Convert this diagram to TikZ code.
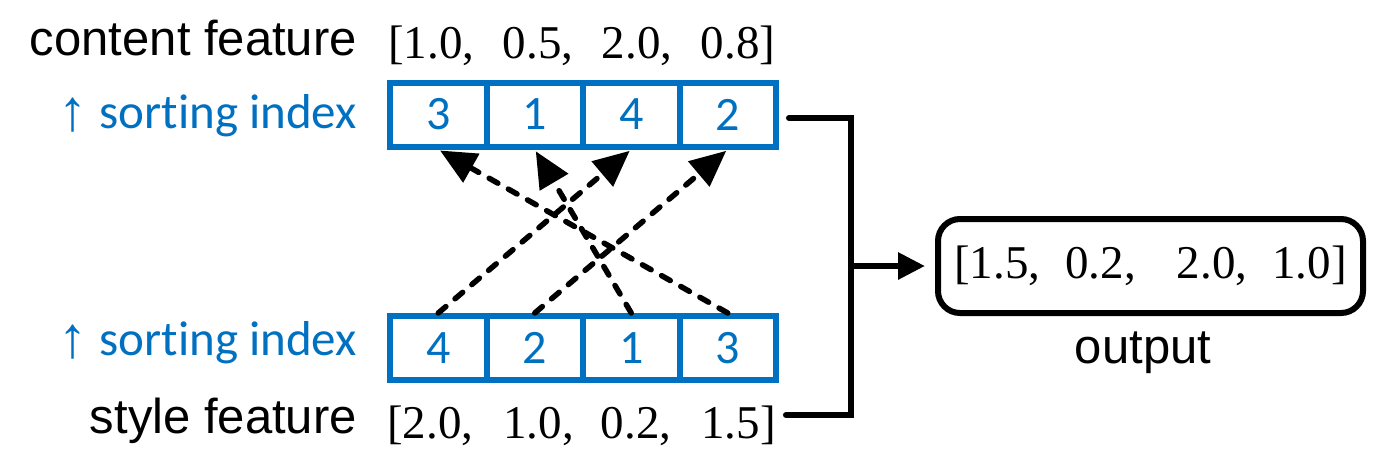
\documentclass[tikz,border=0pt]{standalone}
\usepackage{fontspec}
\setmainfont{Liberation Serif}
\newfontfamily\arialf{Liberation Sans}
\newfontfamily\calibf[Ligatures=NoCommon]{Carlito}
\usetikzlibrary{arrows.meta}
\definecolor{ppblue}{HTML}{0070C0}
\begin{document}
\begin{tikzpicture}[x=1pt,y=-1pt,
  cell/.style={draw=ppblue, line width=6pt, minimum width=96.5pt, minimum height=64pt, inner sep=0pt, text=ppblue, font=\calibf\fontsize{48}{48}\selectfont},
  lbl/.style={inner sep=0pt, font=\arialf\fontsize{49}{49}\selectfont},
  idx/.style={inner sep=0pt, text=ppblue, font=\calibf\fontsize{49}{49}\selectfont},
  uparr/.style={inner sep=0pt, text=ppblue, font=\arialf\fontsize{58}{58}\selectfont},
  vec/.style={inner sep=0pt, font=\fontsize{47}{47}\selectfont},
  dasharrow/.style={line width=5.5pt, line cap=round, dash pattern=on 10pt off 12pt, -{Triangle[length=36pt,width=32pt]}, shorten >=2pt},
  conn/.style={line width=6pt, line cap=round}
]
\useasboundingbox (0,0) rectangle (1384,475);
\fill[white] (0,0) rectangle (1384,475);

\foreach \i/\v in {1/3,2/1,3/4,4/2}
  \node[cell] (t\i) at ({438.25+(\i-1)*96.5}, 114.5) {\v};
\foreach \i/\v in {1/4,2/2,3/1,4/3}
  \node[cell] (b\i) at ({438.25+(\i-1)*96.5}, 348) {\v};

\node[lbl, anchor=base east] (cf) at (357,55) {content feature};
\node[idx, anchor=base east] (si1) at (357,128) {sorting index};
\node[uparr, anchor=base] (ar1) at (72.5,130) {↑};
\node[idx, anchor=base east] (si2) at (357,355) {sorting index};
\node[uparr, anchor=base] (ar2) at (72.5,357) {↑};
\node[lbl, anchor=base east] (sf) at (357,433) {style feature};

\node[vec, anchor=base west] (cv) at (388,58) {[1.0,\hspace{28.5pt}0.5,\hspace{28.5pt}2.0,\hspace{28.5pt}0.8]};
\node[vec, anchor=base west] (sv) at (387,438) {[2.0,\hspace{30pt}1.0,\hspace{27pt}0.2,\hspace{30pt}1.5]};

\node[draw, line width=6pt, rounded corners=22pt, minimum width=425pt, minimum height=94pt, inner sep=0pt, font=\fontsize{47}{47}\selectfont] (out) at (1150.5,266) {[1.5,\hspace{25pt}0.2,\hspace{41pt}2.0,\hspace{25pt}1.0]};
\node[lbl, anchor=base] (ol) at (1143,363) {output};

\draw[dasharrow] (b1.north) -- (t3.south);
\draw[dasharrow] (b2.north) -- (t4.south);
\draw[dasharrow] (b3.north) -- (t2.south);
\draw[dasharrow] (b4.north) -- (t1.south);

\coordinate (j) at (851,266);
\draw[conn] ([shift={(10pt,-3.5pt)}]t4.east) -| (j);
\draw[conn] ([shift={(10pt,23pt)}]sv.base east) -| (j);
\draw[conn, -{Triangle[length=27pt,width=26pt]}, shorten >=10pt] (j) -- (out.west);
\end{tikzpicture}
\end{document}
